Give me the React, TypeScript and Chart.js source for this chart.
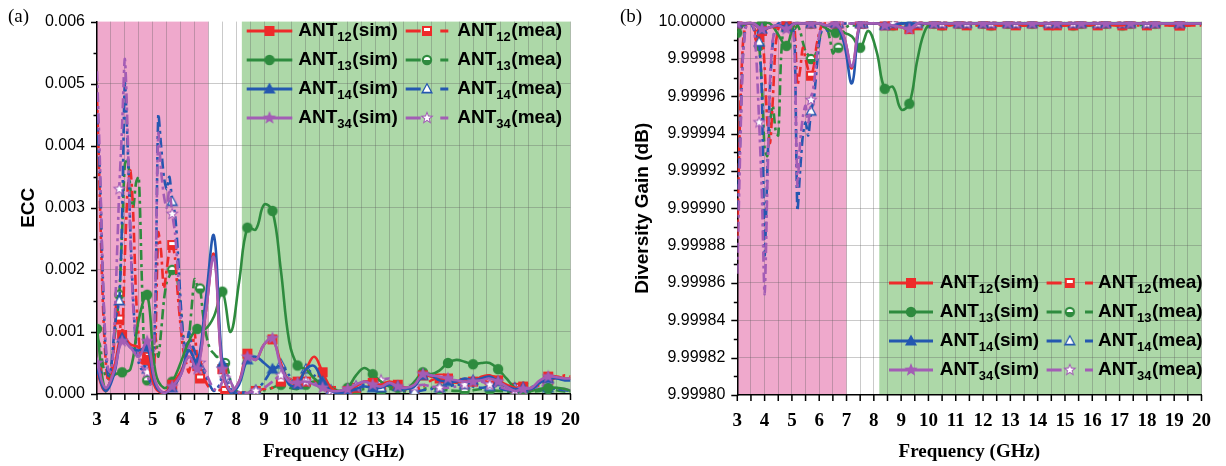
import React, { useEffect, useRef } from 'react';
import { Chart, registerables } from 'chart.js';

Chart.register(...registerables);
Chart.defaults.font.family = '"Liberation Sans", Arial, sans-serif';

// ---------- x grids and ticks ----------
const FREQ_SIM = [3.0,3.3,3.6,3.9,4.2,4.5,4.8,5.1,5.4,5.7,6.0,6.3,6.6,6.9,7.2,7.5,7.8,8.1,8.4,8.7,9.0,9.3,9.6,9.9,10.2,10.5,10.8,11.1,11.4,11.7,12.0,12.3,12.6,12.9,13.2,13.5,13.8,14.1,14.4,14.7,15.0,15.3,15.6,15.9,16.2,16.5,16.8,17.1,17.4,17.7,18.0,18.3,18.6,18.9,19.2,19.5,19.8,20.0];
const FREQ_MEA = [3.0,3.1,3.2,3.3,3.4,3.5,3.6,3.7,3.8,3.9,4.0,4.1,4.2,4.3,4.4,4.5,4.6,4.7,4.8,4.9,5.0,5.1,5.2,5.3,5.4,5.5,5.6,5.7,5.8,5.9,6.0,6.1,6.2,6.3,6.4,6.5,6.6,6.7,6.8,6.9,7.0,7.1,7.2,7.3,7.4,7.5,7.6,7.7,7.8,7.9,8.0,8.1,8.4,8.7,9.0,9.3,9.6,9.9,10.2,10.5,10.8,11.1,11.4,11.7,12.0,12.3,12.6,12.9,13.2,13.5,13.8,14.1,14.4,14.7,15.0,15.3,15.6,15.9,16.2,16.5,16.8,17.1,17.4,17.7,18.0,18.3,18.6,18.9,19.2,19.5,19.8,20.0];
const FREQ_TICKS = [3,3.5,4,4.5,5,5.5,6,6.5,7,7.5,8,8.5,9,9.5,10,10.5,11,11.5,12,12.5,13,13.5,14,14.5,15,15.5,16,16.5,17,17.5,18,18.5,19,19.5,20];
const ECC_TICKS = [0,0.0005,0.001,0.0015,0.002,0.0025,0.003,0.0035,0.004,0.0045,0.005,0.0055,0.006];
const DG_TICKS = [9.9998,9.99981,9.99982,9.99983,9.99984,9.99985,9.99986,9.99987,9.99988,9.99989,9.9999,9.99991,9.99992,9.99993,9.99994,9.99995,9.99996,9.99997,9.99998,9.99999,10];
const PINK_BAND = [3, 7];
const GREEN_BAND = [8.2, 20];
const MEA_MARKER_FREQS = [3.8,4.8,5.7,6.7,7.6,8.7,9.6,10.5,11.4,12.3,13.2,14.4,15.3,16.2,17.1,18.0,19.2];
const PAIRS = ['12', '13', '14', '34'];

// ---------- ECC (a) ----------
const ECC12_SIM = [0.00035,0.00005,0.0004,0.00095,0.0008,0.00075,0.00055,0.0001,0.00002,0.00015,
  0.00035,0.0006,0.00045,0.0013,0.00225,0.0004,0.00002,0.0002,0.00065,0.00055,
  0.0008,0.00088,0.0005,0.0002,0.0002,0.0004,0.0006,0.00035,0.0001,0.00003,
  0.00005,0.00012,0.0002,0.00018,0.00015,0.0002,0.00015,0.0001,0.00015,0.0003,
  0.00028,0.00025,0.00025,0.0002,0.00022,0.0002,0.00028,0.0003,0.00022,0.00015,
  0.0001,0.00012,0.00008,0.0002,0.00028,0.00028,0.00025,0.00025];
const ECC13_SIM = [0.00105,0.00005,0.0003,0.00035,0.0004,0.0012,0.0016,0.00035,0.0001,0.0002,
  0.0005,0.00085,0.00105,0.00105,0.00125,0.00165,0.001,0.0018,0.00268,0.00265,
  0.00305,0.00295,0.002,0.00085,0.00046,0.0004,0.00025,0.00015,0.0001,0.00005,
  0.0001,0.0003,0.00042,0.00032,0.0002,0.00012,0.0001,0.00008,0.0002,0.00035,
  0.00032,0.00038,0.0005,0.00055,0.00052,0.00048,0.0005,0.0005,0.0004,0.00025,
  0.0001,0.00003,0.00005,0.00008,0.0001,0.0001,0.00008,0.00005];
const ECC14_SIM = [0.0004,0.00005,0.0003,0.0009,0.00075,0.0007,0.00075,0.00015,0.00002,0.0001,
  0.0003,0.0007,0.0005,0.0015,0.00255,0.0005,0.00002,0.00015,0.00055,0.0006,
  0.0005,0.0004,0.00045,0.00015,0.00015,0.0004,0.00045,0.0002,0.00005,0.00002,
  0.00003,0.00008,0.00012,0.0001,0.0001,0.00015,0.00012,0.00008,0.00012,0.0003,
  0.0003,0.00022,0.0002,0.0002,0.00025,0.00022,0.00025,0.00028,0.0002,0.00012,
  0.00008,0.0001,0.00008,0.00018,0.00025,0.00025,0.00022,0.00022];
const ECC34_SIM = [0.0005,0.0001,0.00035,0.00085,0.00075,0.0006,0.00085,0.0002,0.00002,0.00012,
  0.0003,0.0006,0.0004,0.0013,0.0022,0.0004,0.00005,0.0002,0.0006,0.00055,
  0.0008,0.0009,0.00045,0.0002,0.00018,0.0002,0.00015,0.0001,0.00005,0.00005,
  0.00008,0.00015,0.0002,0.00015,0.00012,0.00018,0.00012,0.0001,0.00015,0.00032,
  0.0003,0.00028,0.00025,0.00022,0.0002,0.0002,0.00022,0.00025,0.0002,0.00012,
  0.00005,0.00008,0.0001,0.00022,0.00028,0.00027,0.00025,0.00025];

const ECC12_MEA = [0.0048,0.0032,0.0016,0.0006,0.0002,0.0003,0.0007,0.0015,0.0012,0.00095,
  0.0022,0.0033,0.0036,0.0029,0.0016,0.0009,0.0005,0.00055,0.0006,0.0004,
  0.00015,0.0009,0.0026,0.0023,0.0017,0.002,0.0023,0.0024,0.0022,0.0016,
  0.0011,0.0007,0.0005,0.00035,0.0006,0.001,0.00055,0.00025,0.00035,0.0002,
  0.00012,0.00008,0.00005,0.00004,0.00006,0.0001,0.00005,0.00002,0,0,
  0.00002,0.00002,
  0.00003,0.00005,0.00008,0.0001,0.0002,0.00025,0.00015,0.0002,0.00022,0.00012,
  0.00005,0.00002,0.00004,0.0001,0.0002,0.00015,0.00012,0.00015,0.0001,0.00006,
  0.00005,0.00012,0.00022,0.00025,0.0002,0.00018,0.00018,0.00022,0.00025,0.00022,
  0.00018,0.00012,0.0001,0.00014,0.0001,0.00015,0.00022,0.00026,0.0003,
  0.00028];
const ECC13_MEA = [0.0009,0.0008,0.0005,0.0003,0.00025,0.0004,0.0008,0.0012,0.0016,0.0026,
  0.0037,0.0038,0.0033,0.003,0.0034,0.0035,0.002,0.0006,0.00022,0.0003,
  0.0007,0.0009,0.0006,0.001,0.0015,0.0018,0.0019,0.002,0.002,0.0018,
  0.0014,0.0009,0.0006,0.0009,0.0014,0.00185,0.00175,0.0017,0.0013,0.001,
  0.0008,0.0007,0.00065,0.0006,0.0006,0.00055,0.0005,0.0004,0.0002,0.0001,
  0.00005,0.00003,
  0.00002,0.00004,0.00006,0.0001,0.00015,0.0001,0.00008,0.00015,0.0002,0.0001,
  0.00005,0.00004,0.00003,0.00005,0.00008,0.00006,0.00005,0.00008,0.00005,0.00004,
  0.00005,0.00008,0.0001,0.00008,0.00006,0.00005,0.00005,0.00006,0.00008,0.00006,
  0.00005,0.00004,0.00003,0.00005,0.00004,0.00005,0.00008,0.00006,0.00004,
  0.00003];
const ECC14_MEA = [0.0045,0.0036,0.002,0.0008,0.0003,0.0004,0.0009,0.0013,0.0015,0.0028,
  0.005,0.004,0.0026,0.0015,0.0008,0.0005,0.0004,0.00045,0.0004,0.0002,
  0.0003,0.0015,0.0045,0.004,0.0035,0.0033,0.0035,0.0031,0.0029,0.0023,
  0.0015,0.0009,0.0007,0.001,0.0008,0.0007,0.0005,0.00045,0.0004,0.0003,
  0.0002,0.0001,0.00005,0.00008,0.00015,0.00025,0.0003,0.0002,0.00008,0.00003,
  0.00002,0.00002,
  0.00003,0.00006,0.0002,0.0004,0.00048,0.0003,0.00015,0.0004,0.0003,0.00015,
  0.00006,0.00003,0.00005,0.00012,0.00015,0.0001,0.0001,0.00012,0.00008,0.00005,
  0.00004,0.00006,0.00008,0.0001,0.00012,0.00015,0.00015,0.00012,0.0001,0.00012,
  0.0001,0.00006,0.0001,0.00018,0.00012,0.00008,0.0001,0.00008,0.00006,
  0.00005];
const ECC34_MEA = [0.0052,0.0038,0.002,0.0009,0.0004,0.00035,0.0008,0.002,0.0033,0.0043,
  0.0054,0.0042,0.0025,0.0014,0.0009,0.0006,0.00045,0.0004,0.00035,0.00015,
  0.0002,0.0018,0.0042,0.0036,0.0032,0.003,0.0033,0.0029,0.0026,0.002,
  0.0012,0.0008,0.0006,0.0008,0.0007,0.0006,0.00055,0.0005,0.00045,0.00035,
  0.00025,0.00015,0.00008,0.00006,0.0001,0.0002,0.00025,0.0003,0.0002,0.0001,
  0.00005,0.00003,
  0.00002,0.00005,0.0001,0.0002,0.0003,0.00025,0.00018,0.0002,0.00018,0.0001,
  0.00005,0.00003,0.00005,0.00012,0.0002,0.0002,0.00022,0.00025,0.00015,0.0001,
  0.00012,0.00015,0.00012,0.0001,0.0001,0.00012,0.00015,0.00018,0.0002,0.00015,
  0.00012,0.00008,0.00006,0.00005,0.00008,0.00012,0.00015,0.0001,0.00008,
  0.00006];

// ---------- Diversity gain (b) ----------
const DG12_SIM = [9.999999,9.999999,9.999999,9.999995,9.999997,9.999997,9.999998,9.999999,9.999999,9.999999,
  9.999999,9.999998,9.999999,9.999992,9.999975,9.999999,9.999999,9.999999,9.999998,9.999998,
  9.999997,9.999996,9.999999,9.999999,9.999999,9.999999,9.999998,9.999999,9.999999,9.999999,
  9.999999,9.999999,9.999998,9.999999,9.999999,9.999998,9.999999,9.999999,9.999999,9.999998,
  9.999998,9.999999,9.999999,9.999998,9.999999,9.999999,9.999998,9.999998,9.999999,9.999999,
  9.999999,9.999999,9.999999,9.999998,9.999998,9.999998,9.999999,9.999999];
const DG13_SIM = [9.999994,9.999999,9.999999,9.999999,9.999999,9.999993,9.999987,9.999999,9.999999,9.999999,
  9.999999,9.999996,9.999994,9.999994,9.999992,9.999986,9.999995,9.999984,9.999964,9.999965,
  9.999953,9.999956,9.99998,9.999996,9.999999,9.999999,9.999999,9.999999,9.999999,9.999999,
  9.999999,9.999999,9.999999,9.999999,9.999999,9.999999,9.999999,9.999999,9.999999,9.999999,
  9.999999,9.999999,9.999999,9.999998,9.999999,9.999999,9.999999,9.999999,9.999999,9.999999,
  9.999999,9.999999,9.999999,9.999999,9.999999,9.999999,9.999999,9.999999];
const DG14_SIM = [9.999999,9.999999,9.999999,9.999996,9.999997,9.999998,9.999997,9.999999,9.999999,9.999999,
  9.999999,9.999998,9.999999,9.999989,9.999967,9.999999,9.999999,9.999999,9.999998,9.999998,
  9.999999,9.999999,9.999999,9.999999,9.999999,9.999999,9.999999,9.999999,9.999999,9.999999,
  9.999999,9.999999,9.999999,9.999999,9.999999,9.999999,9.999999,9.999999,9.999999,9.999999,
  9.999999,9.999999,9.999999,9.999999,9.999999,9.999999,9.999999,9.999999,9.999999,9.999999,
  9.999999,9.999999,9.999999,9.999999,9.999999,9.999999,9.999999,9.999999];
const DG34_SIM = [9.999999,9.999999,9.999999,9.999996,9.999997,9.999998,9.999996,9.999999,9.999999,9.999999,
  9.999999,9.999998,9.999999,9.999992,9.999976,9.999999,9.999999,9.999999,9.999998,9.999998,
  9.999997,9.999996,9.999999,9.999999,9.999999,9.999999,9.999999,9.999999,9.999999,9.999999,
  9.999999,9.999999,9.999999,9.999999,9.999999,9.999999,9.999999,9.999999,9.999999,9.999999,
  9.999999,9.999999,9.999999,9.999999,9.999999,9.999999,9.999999,9.999999,9.999999,9.999999,
  9.999999,9.999999,9.999999,9.999999,9.999999,9.999999,9.999999,9.999999];

const DG12_MEA = [9.999885,9.999949,9.999987,9.999998,9.999999,9.999999,9.999998,9.999989,9.999993,9.999995,
  9.999976,9.999946,9.999935,9.999958,9.999987,9.999996,9.999999,9.999998,9.999998,9.999999,
  9.999999,9.999996,9.999966,9.999974,9.999986,9.99998,9.999974,9.999971,9.999976,9.999987,
  9.999994,9.999998,9.999999,9.999999,9.999998,9.999995,9.999998,9.999999,9.999999,9.999999,
  9.999999,9.999999,9.999999,9.999999,9.999999,9.999999,9.999999,9.999999,9.999999,9.999999,
  9.999999,9.999999,
  9.999998,9.999998,9.999998,9.999998,9.999998,9.999998,9.999998,9.999998,9.999998,9.999998,
  9.999998,9.999998,9.999998,9.999998,9.999998,9.999998,9.999998,9.999998,9.999998,9.999998,
  9.999998,9.999998,9.999998,9.999998,9.999998,9.999998,9.999998,9.999998,9.999998,9.999998,
  9.999998,9.999998,9.999998,9.999998,9.999998,9.999998,9.999998,9.999998,9.999998,
  9.999998];
const DG13_MEA = [9.999996,9.999997,9.999999,9.999999,9.999999,9.999999,9.999997,9.999993,9.999987,9.999966,
  9.999932,9.999928,9.999946,9.999955,9.999942,9.999939,9.99998,9.999998,9.999999,9.999999,
  9.999998,9.999996,9.999998,9.999995,9.999989,9.999984,9.999982,9.99998,9.99998,9.999984,
  9.99999,9.999996,9.999998,9.999996,9.99999,9.999983,9.999985,9.999986,9.999992,9.999995,
  9.999997,9.999998,9.999998,9.999998,9.999998,9.999998,9.999999,9.999999,9.999999,9.999999,
  9.999999,9.999999,
  9.999999,9.999998,9.999999,9.999998,9.999999,9.999998,9.999999,9.999998,9.999999,9.999998,
  9.999999,9.999998,9.999999,9.999998,9.999999,9.999998,9.999999,9.999998,9.999999,9.999998,
  9.999999,9.999998,9.999999,9.999998,9.999999,9.999998,9.999999,9.999998,9.999999,9.999998,
  9.999999,9.999998,9.999999,9.999998,9.999999,9.999998,9.999999,9.999998,9.999999,
  9.999998];
const DG14_MEA = [9.999899,9.999935,9.99998,9.999997,9.999999,9.999999,9.999996,9.999992,9.999989,9.999961,
  9.999875,9.99992,9.999966,9.999989,9.999997,9.999999,9.999999,9.999999,9.999999,9.999999,
  9.999999,9.999989,9.999899,9.99992,9.999939,9.999946,9.999939,9.999952,9.999958,9.999974,
  9.999989,9.999996,9.999998,9.999995,9.999997,9.999998,9.999999,9.999999,9.999999,9.999999,
  9.999999,9.999999,9.999999,9.999999,9.999999,9.999999,9.999999,9.999999,9.999999,9.999999,
  9.999999,9.999999,
  9.999999,9.999999,9.999999,9.999999,9.999999,9.999999,9.999999,9.999999,9.999999,9.999999,
  9.999999,9.999999,9.999999,9.999999,9.999999,9.999999,9.999999,9.999999,9.999999,9.999999,
  9.999999,9.999999,9.999999,9.999999,9.999999,9.999999,9.999999,9.999999,9.999999,9.999999,
  9.999999,9.999999,9.999999,9.999999,9.999999,9.999999,9.999999,9.999999,9.999999,
  9.999999];
const DG34_MEA = [9.999865,9.999928,9.99998,9.999996,9.999999,9.999999,9.999997,9.99998,9.999946,9.999908,
  9.999854,9.999912,9.999969,9.99999,9.999996,9.999998,9.999999,9.999999,9.999999,9.999999,
  9.999999,9.999984,9.999912,9.999935,9.999949,9.999955,9.999946,9.999958,9.999966,9.99998,
  9.999993,9.999997,9.999998,9.999997,9.999998,9.999998,9.999998,9.999999,9.999999,9.999999,
  9.999999,9.999999,9.999999,9.999999,9.999999,9.999999,9.999999,9.999999,9.999999,9.999999,
  9.999999,9.999999,
  9.999999,9.999999,9.999999,9.999999,9.999999,9.999999,9.999999,9.999999,9.999999,9.999999,
  9.999999,9.999999,9.999999,9.999999,9.999999,9.999999,9.999999,9.999999,9.999999,9.999999,
  9.999999,9.999999,9.999999,9.999999,9.999999,9.999999,9.999999,9.999999,9.999999,9.999999,
  9.999999,9.999999,9.999999,9.999999,9.999999,9.999999,9.999999,9.999999,9.999999,
  9.999999];

// ---------- styles ----------
const COLORS: Record<string, string> = { '12': '#EE2A2A', '13': '#2E8B3E', '14': '#2457B0', '34': '#A35DB5' };
const SHAPES: Record<string, string> = { '12': 'rect', '13': 'circle', '14': 'triangle', '34': 'star' };
const PINK = '#EFA9CC';
const GREEN = '#ADD8A8';
const GRID = 'rgba(90,90,90,0.32)';
const MEA_DASH = [10, 4, 3, 4];
const SERIF = '"Liberation Serif", "Times New Roman", serif';
const SANS = '"Liberation Sans", Arial, sans-serif';

function makeMarker(shape: string, color: string, half: boolean) {
  const c = document.createElement('canvas');
  const S = 16;
  c.width = S; c.height = S;
  const g = c.getContext('2d') as CanvasRenderingContext2D;
  g.translate(S / 2, S / 2);
  const path = (k: number) => {
    g.beginPath();
    if (shape === 'rect') { const h = 5 * k; g.rect(-h, -h, 2 * h, 2 * h); }
    else if (shape === 'circle') { g.arc(0, 0, 5.2 * k, 0, Math.PI * 2); }
    else if (shape === 'triangle') { g.moveTo(0, -6.5 * k); g.lineTo(6 * k, 4.5 * k); g.lineTo(-6 * k, 4.5 * k); g.closePath(); }
    else {
      for (let j = 0; j < 10; j++) {
        const r = (j % 2 === 0 ? 7 : 3) * k;
        const a = -Math.PI / 2 + (j * Math.PI) / 5;
        const px = r * Math.cos(a), py = r * Math.sin(a);
        if (j === 0) g.moveTo(px, py); else g.lineTo(px, py);
      }
      g.closePath();
    }
  };
  g.fillStyle = color; path(1); g.fill();
  if (half) {
    g.save(); path(0.6); g.clip(); g.fillStyle = '#fff';
    if (shape === 'rect' || shape === 'circle') g.fillRect(-8, -8, 16, 8);
    else g.fillRect(-8, -8, 16, 16);
    g.restore();
  }
  return c;
}

function nearestIndex(arr: number[], v: number) {
  let best = 0;
  arr.forEach((a, i) => { if (Math.abs(a - v) < Math.abs(arr[best] - v)) best = i; });
  return best;
}

function drawLegend(ctx: CanvasRenderingContext2D, L: any, markers: any) {
  PAIRS.forEach((k, r) => {
    const y = L.rows[r];
    ['sim', 'mea'].forEach((kind, ci) => {
      const col = L.cols[ci];
      ctx.save();
      ctx.strokeStyle = COLORS[k];
      ctx.lineWidth = 3;
      ctx.beginPath();
      if (kind === 'sim') {
        ctx.moveTo(col.x0, y); ctx.lineTo(col.x1, y);
      } else {
        ctx.moveTo(col.x0, y); ctx.lineTo(col.x0 + 15, y);
        ctx.moveTo(col.x1 - 8, y); ctx.lineTo(col.x1, y);
      }
      ctx.stroke();
      const m = markers[k][kind];
      const cx = (col.x0 + col.x1) / 2;
      ctx.drawImage(m, cx - m.width / 2, y - m.height / 2);
      ctx.fillStyle = '#000';
      ctx.textBaseline = 'middle';
      ctx.textAlign = 'left';
      ctx.font = 'bold 19px ' + SANS;
      let x = col.tx;
      ctx.fillText('ANT', x, y);
      x += ctx.measureText('ANT').width;
      ctx.font = 'bold 13px ' + SANS;
      ctx.fillText(k, x, y + 6.5);
      x += ctx.measureText(k).width + 0.5;
      ctx.font = 'bold 19px ' + SANS;
      ctx.fillText('(' + kind + ')', x, y);
      ctx.restore();
    });
  });
}

function buildConfig(p: any, markers: any) {
  const simIdx = new Set(FREQ_SIM.map((_, i) => i).filter((i) => i % 3 === 0 && i < FREQ_SIM.length - 1));
  const meaIdx = new Set(MEA_MARKER_FREQS.map((f) => nearestIndex(FREQ_MEA, f)));
  const order = [['34', 'sim'], ['14', 'sim'], ['12', 'sim'], ['13', 'sim'], ['34', 'mea'], ['14', 'mea'], ['12', 'mea'], ['13', 'mea']];
  const datasets = order.map(([k, kind]) => {
    const isSim = kind === 'sim';
    const xs = isSim ? FREQ_SIM : FREQ_MEA;
    const ys = p.series[kind][k];
    const idx = isSim ? simIdx : meaIdx;
    return {
      label: 'ANT' + k + '(' + kind + ')',
      data: xs.map((x, i) => ({ x, y: ys[i] })),
      borderColor: COLORS[k],
      backgroundColor: COLORS[k],
      borderWidth: 2.6,
      borderDash: isSim ? [] : MEA_DASH,
      tension: isSim ? 0.4 : 0.25,
      fill: false,
      pointStyle: markers[k][kind],
      pointRadius: (c: any) => (idx.has(c.dataIndex) ? 5 : 0),
      pointHoverRadius: 0,
    };
  });
  const yTicks: number[] = p.yTicks;
  const nY = yTicks.length;
  const plugin = {
    id: 'decor' + p.id,
    beforeDraw(chart: any) {
      const { ctx, chartArea: a, scales } = chart;
      const x = scales.x;
      ctx.save();
      const bands = [[PINK_BAND, PINK], [GREEN_BAND, GREEN]];
      bands.forEach(([b, col]: any) => {
        const x0 = x.getPixelForValue(b[0]);
        const x1 = x.getPixelForValue(b[1]);
        ctx.fillStyle = col;
        ctx.fillRect(x0, a.top, x1 - x0, a.bottom - a.top);
      });
      ctx.restore();
    },
    afterDraw(chart: any) {
      const { ctx, chartArea: a, scales } = chart;
      ctx.save();
      ctx.strokeStyle = '#000';
      ctx.lineWidth = 1.5;
      ctx.beginPath();
      scales.y.ticks.forEach((t: any, i: number) => {
        const y = Math.round(scales.y.getPixelForValue(t.value)) + 0.5;
        const len = i % 2 === 0 ? 6 : 3.5;
        ctx.moveTo(a.left - len, y); ctx.lineTo(a.left, y);
      });
      scales.x.ticks.forEach((t: any) => {
        const x = scales.x.getPixelForValue(t.value);
        ctx.moveTo(x, a.bottom); ctx.lineTo(x, a.bottom + 6);
      });
      ctx.stroke();
      ctx.fillStyle = '#000';
      ctx.font = '19px ' + SERIF;
      ctx.textBaseline = 'middle';
      ctx.textAlign = 'left';
      ctx.fillText(p.panel, p.panelX, 17);
      ctx.restore();
      drawLegend(ctx, p.legend, markers);
    },
  };
  return {
    type: 'line',
    data: { datasets },
    plugins: [plugin],
    options: {
      responsive: false,
      animation: false,
      events: [],
      layout: { padding: { top: p.top, right: p.right, left: 0, bottom: 0 } },
      plugins: { legend: { display: false }, tooltip: { enabled: false } },
      scales: {
        x: {
          type: 'linear',
          min: 3,
          max: 20,
          afterBuildTicks: (s: any) => { s.ticks = FREQ_TICKS.map((v) => ({ value: v })); },
          afterFit: (s: any) => { s.height = p.xHeight; },
          ticks: {
            autoSkip: false,
            maxRotation: 0,
            padding: 15,
            color: '#000',
            font: { family: SERIF, size: 19, weight: 'bold' },
            callback: (v: any) => (Number.isInteger(v) ? String(v) : ''),
          },
          grid: { drawTicks: false, lineWidth: 1, color: (c: any) => (c.tick && c.tick.value > 3 ? GRID : 'rgba(0,0,0,0)') },
          border: { display: true, color: '#000', width: 1.5 },
          title: { display: true, text: 'Frequency (GHz)', color: '#000', font: { family: SERIF, size: 19, weight: 'bold' }, padding: { top: 0, bottom: 3 } },
        },
        y: {
          type: 'linear',
          min: yTicks[0],
          max: yTicks[nY - 1],
          afterBuildTicks: (s: any) => { s.ticks = yTicks.map((v) => ({ value: v })); },
          afterFit: (s: any) => { s.width = p.yWidth; },
          ticks: {
            autoSkip: false,
            padding: 12,
            color: '#000',
            font: { family: SANS, size: 16 },
            callback: (v: any, i: number) => (i % 2 === 0 ? Number(v).toFixed(p.decimals) : ''),
          },
          grid: { drawTicks: false, lineWidth: 1, color: (c: any) => (c.index % 2 === 0 && c.index > 0 && c.index < nY - 1 ? GRID : 'rgba(0,0,0,0)') },
          border: { display: true, color: '#000', width: 1.5 },
          title: { display: true, text: p.yTitle, color: '#000', font: { family: SANS, size: 19, weight: 'bold' }, padding: { top: p.yTitlePad, bottom: 0 } },
        },
      },
    },
  };
}

export default function App() {
  const leftRef = useRef<HTMLCanvasElement>(null);
  const rightRef = useRef<HTMLCanvasElement>(null);
  useEffect(() => {
    const markers: any = {};
    PAIRS.forEach((k) => {
      markers[k] = { sim: makeMarker(SHAPES[k], COLORS[k], false), mea: makeMarker(SHAPES[k], COLORS[k], true) };
    });
    const left = {
      id: 'a', panel: '(a)', panelX: 8,
      yTicks: ECC_TICKS, decimals: 3, yTitle: 'ECC', yWidth: 97, yTitlePad: 17.5,
      top: 14, right: 42.5, xHeight: 72,
      series: {
        sim: { '12': ECC12_SIM, '13': ECC13_SIM, '14': ECC14_SIM, '34': ECC34_SIM },
        mea: { '12': ECC12_MEA, '13': ECC13_MEA, '14': ECC14_MEA, '34': ECC34_MEA },
      },
      legend: {
        rows: [31, 60, 89, 118],
        cols: [{ x0: 246.7, x1: 292.3, tx: 298.3 }, { x0: 405.7, x1: 448.3, tx: 457.3 }],
      },
    };
    const right = {
      id: 'b', panel: '(b)', panelX: 7,
      yTicks: DG_TICKS, decimals: 5, yTitle: 'Diversity Gain (dB)', yWidth: 124.3, yTitlePad: 18.5,
      top: 17, right: 19.5, xHeight: 71,
      series: {
        sim: { '12': DG12_SIM, '13': DG13_SIM, '14': DG14_SIM, '34': DG34_SIM },
        mea: { '12': DG12_MEA, '13': DG13_MEA, '14': DG14_MEA, '34': DG34_MEA },
      },
      legend: {
        rows: [283, 312, 341, 370],
        cols: [{ x0: 276, x1: 320, tx: 326.7 }, { x0: 433.6, x1: 480, tx: 485 }],
      },
    };
    const c1 = new Chart(leftRef.current as HTMLCanvasElement, buildConfig(left, markers) as any);
    const c2 = new Chart(rightRef.current as HTMLCanvasElement, buildConfig(right, markers) as any);
    return () => { c1.destroy(); c2.destroy(); };
  }, []);
  return (
    <div style={{ position: 'fixed', left: 0, top: 0, width: 1226, height: 466, background: '#fff' }}>
      <canvas ref={leftRef} width={613} height={466} style={{ position: 'absolute', left: 0, top: 0 }} />
      <canvas ref={rightRef} width={613} height={466} style={{ position: 'absolute', left: 613, top: 0 }} />
    </div>
  );
}
